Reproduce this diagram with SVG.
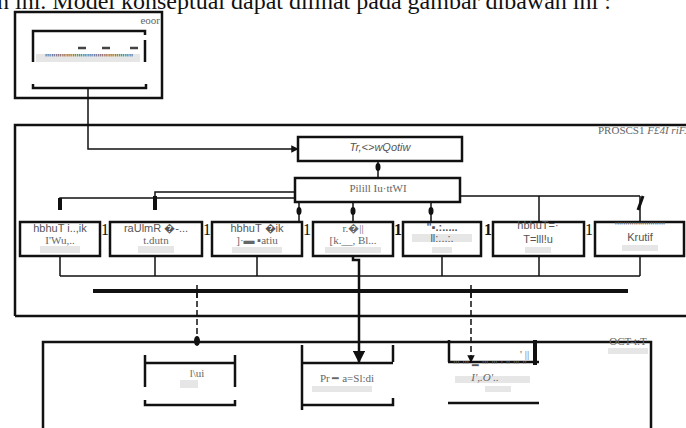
<svg xmlns="http://www.w3.org/2000/svg" width="686" height="428" viewBox="0 0 686 428">
<style>
.b{fill:none;stroke:#111;stroke-width:2.5}
.t{fill:none;stroke:#111;stroke-width:1.5}
.k{fill:none;stroke:#111;stroke-width:4}
.d{fill:none;stroke:#111;stroke-width:1.5;stroke-dasharray:6 3}
.s{font-family:"Liberation Sans",Arial,sans-serif;font-size:11px;fill:#555;text-anchor:middle}
.r{font-family:"Liberation Serif","Times New Roman",serif;font-size:11px;fill:#666}
.g{fill:#e6e6e6}
</style>
<defs>
<marker id="ar" viewBox="0 0 10 10" refX="9" refY="5" markerWidth="5" markerHeight="5" orient="auto"><path d="M0,0L10,5L0,10z" fill="#111"/></marker>
</defs>
<rect width="686" height="428" fill="#fff"/>
<text x="-3" y="9" font-family="Liberation Serif,serif" font-size="24" fill="#111">n ini. Model konseptual dapat dilihat pada gambar dibawah ini :</text>

<g id="input">
<rect x="15" y="12" width="147" height="86" class="b"/>
<text x="160" y="24" class="r" text-anchor="end" font-size="13">eoor</text>
<path d="M33,35V31H145V35M33,31V62M145,40V62M33,84V88H146V84" class="b"/>
<rect x="36" y="54" width="104" height="8" class="g"/>
<text x="89" y="62" class="s" font-size="9" fill="#777">''''''''''''''''''''''''''''''''''''''''''</text>
<path d="M78,48h8M102,48h8M130,48h8" stroke="#444" stroke-width="2.5"/>
</g>

<g id="process">
<path d="M15,316V125H690M15,316H690" class="b"/>
<text x="598" y="134" class="r">PROSCS1 <tspan font-style="italic">F£4I riF.</tspan></text>
</g>

<g id="n-top">
<rect x="298" y="137" width="164" height="24" class="b"/>
<text x="380" y="151" class="s" font-style="italic">Tr,&lt;&gt;wQotiw</text>
</g>
<g id="n-mid">
<rect x="295" y="178" width="165" height="24" class="b"/>
<text x="378" y="192" class="r" text-anchor="middle" font-size="10">Pilill Iu·ttWI</text>
</g>

<g id="row">
<g id="r1"><rect x="20" y="222" width="80" height="34" class="b"/><rect x="40" y="246" width="40" height="7" class="g"/><text x="60" y="232" class="s">hbhuT i..,ik</text><text x="60" y="244" class="r" text-anchor="middle" font-size="10">I'Wu,..</text></g>
<g id="r2"><rect x="110" y="222" width="92" height="34" class="b"/><rect x="138" y="246" width="36" height="7" class="g"/><text x="156" y="232" class="s">raUlmR �-...</text><text x="156" y="244" class="r" text-anchor="middle" font-size="10">t.dutn</text></g>
<g id="r3"><rect x="212" y="222" width="90" height="34" class="b"/><rect x="232" y="247" width="50" height="6" class="g"/><text x="257" y="232" class="s">hbhuT �ik</text><text x="257" y="244" class="r" text-anchor="middle" font-size="10">]·▬ ▪atiu</text></g>
<g id="r4"><rect x="313" y="222" width="80" height="34" class="b"/><rect x="325" y="247" width="56" height="6" class="g"/><text x="353" y="232" class="r" text-anchor="middle">r.�||</text><text x="353" y="244" class="r" text-anchor="middle" font-size="11">[k.__, Bl...</text></g>
<g id="r5"><rect x="403" y="222" width="78" height="34" class="b"/><rect x="412" y="234" width="60" height="8" class="g"/><rect x="432" y="247" width="20" height="6" class="g"/><text x="442" y="231" class="s" font-weight="bold">"▪.:.....</text><text x="442" y="242" class="s" font-size="9">ll:...:.</text></g>
<g id="r6"><rect x="493" y="222" width="91" height="34" class="b"/><rect x="525" y="247" width="26" height="6" class="g"/><text x="538" y="229" class="s" font-size="12">hbhuT=·</text><text x="538" y="243" class="s" font-size="12">T=lll!u</text></g>
<g id="r7"><rect x="595" y="222" width="89" height="34" class="b"/><rect x="622" y="245" width="36" height="6" class="g"/><text x="640" y="230" class="s">''''''''''''''''''''''''</text><text x="640" y="241" class="s">Krutif</text></g>
</g>
<g id="seps" font-family="Liberation Serif,serif" font-size="16" fill="#111">
<text x="101" y="235">1</text><text x="203" y="235">1</text><text x="303" y="235">1</text><text x="394" y="235" font-weight="bold">1</text><text x="484" y="235" font-weight="bold">1</text><text x="585" y="235">1</text>
</g>

<g id="output">
<path d="M43,430V342H651V430" class="b"/>
<text x="628" y="345" class="r" text-anchor="middle">OCT-t:T</text>
<rect x="608" y="348" width="40" height="6" class="g"/>
<g id="o1"><path d="M145,363H235M145,355V387M235,355V387M145,400V405H235V400" class="b"/><rect x="180" y="380" width="18" height="8" class="g"/><text x="197" y="377" class="r" text-anchor="middle">l\ui</text></g>
<g id="o2"><path d="M302,363H393M302,345V410M393,345V362M302,405H393V398" class="b"/><rect x="312" y="386" width="60" height="6" class="g"/><text x="347" y="382" class="r" text-anchor="middle">Pr ━ a=Sl:di</text></g>
<g id="o3"><path d="M448,362H539M448,403H539M449,340V362" class="b"/><path d="M535,340V365" stroke="#111" stroke-width="4"/><rect x="455" y="376" width="75" height="7" class="g"/><rect x="485" y="386" width="26" height="6" class="g"/><text x="490" y="369" class="s" font-size="9">''' ''' ━ ''' ''' ' '' ''' ''</text><text x="485" y="381" class="r" text-anchor="middle" font-style="italic">I',.O'..</text><text x="520" y="358" class="r" font-size="12">' ||</text></g>
</g>

<g id="connectors">
<path d="M88,88V149H298" class="t" marker-end="url(#ar)"/>
<path d="M378,161V178" class="t"/>
<ellipse cx="378" cy="167" rx="2.5" ry="4" fill="#111"/>
<path d="M295,192H155V210M295,198H60V210" class="t"/>
<path d="M60,198V210M155,196V210" class="k"/>
<path d="M460,196H640M539,196V222M640,196V222" class="t"/>
<path d="M643,196L638,210" stroke="#111" stroke-width="3"/>
<path d="M299,202V222M353,202V222M431,202V222M352,202H460" class="t"/>
<ellipse cx="299" cy="211" rx="2.5" ry="4" fill="#111"/>
<ellipse cx="353" cy="211" rx="2.5" ry="4" fill="#111"/>
<ellipse cx="431" cy="211" rx="2.5" ry="4" fill="#111"/>
<path d="M60,256V276M155,256V276M257,256V276M442,256V276M539,256V276M640,256V276M60,276H640" class="t"/>
<path d="M353,256V260H359V362" class="b" marker-end="url(#ar)"/>
<path d="M93,291H628" stroke="#111" stroke-width="4"/>
<path d="M197,285V298M471,285V298" class="t"/>
<path d="M197,292V342" class="d"/>
<ellipse cx="197" cy="341" rx="3" ry="5" fill="#111"/>
<path d="M471,292V362" class="d" marker-end="url(#ar)"/>
</g>
</svg>
